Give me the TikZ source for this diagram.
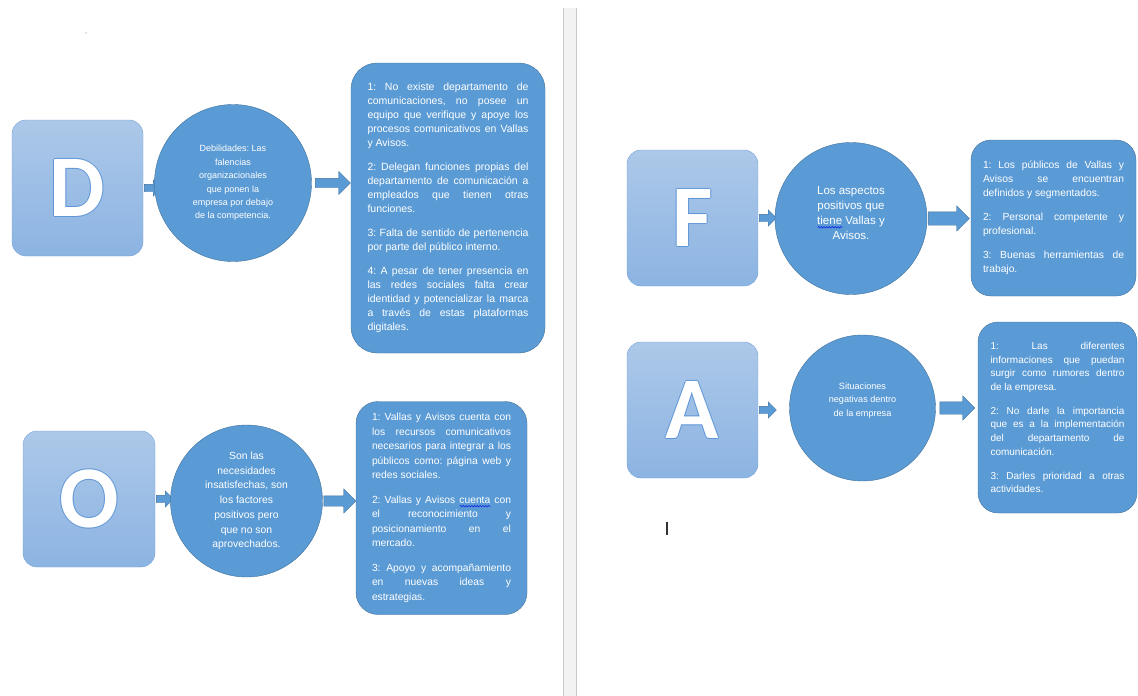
\documentclass[tikz,border=0pt]{standalone}
\usepackage{fontspec}
\setmainfont{Liberation Sans}
\newfontfamily\letterfont{Carlito}
\usepackage{tikz}
\usetikzlibrary{positioning,shapes.arrows,decorations.pathmorphing}
\definecolor{boxfill}{RGB}{91,155,213}
\definecolor{boxline}{RGB}{65,113,156}
\definecolor{sqtop}{RGB}{172,200,233}
\definecolor{sqbottom}{RGB}{140,180,226}
\definecolor{sqline}{RGB}{118,163,216}
\definecolor{letteredge}{RGB}{96,150,214}
\definecolor{spellblue}{RGB}{20,40,230}
\definecolor{pagegap}{RGB}{242,242,242}
\definecolor{pageedge}{RGB}{200,200,200}
\newlength\wavelen
\newcommand\spellwave[1]{\settowidth\wavelen{#1}\rlap{\tikz[baseline=0pt,x=1pt,y=1pt]
  \draw[spellblue,fill=none,sharp corners,line width=0.6pt,decorate,
    decoration={snake,segment length=2.8pt,amplitude=0.8pt}] (0,-2.8) -- (\wavelen,-2.8);}#1}
\newcommand\edgeletter[1]{\rlap{\textcolor{letteredge}{\kern0.9pt#1}}%
  \rlap{\textcolor{letteredge}{\kern-0.9pt#1}}%
  \rlap{\textcolor{letteredge}{\raisebox{0.9pt}{#1}}}%
  \rlap{\textcolor{letteredge}{\raisebox{-0.9pt}{#1}}}#1}
\newcommand\nextpoint{\par\vspace{10pt}}
\newcommand\br{\linebreak}
\frenchspacing
\tolerance=10000
\hyphenpenalty=10000
\exhyphenpenalty=10000
\tikzset{
  lettersq/.style={draw=sqline,top color=sqtop,bottom color=sqbottom,rounded corners=14pt,
    minimum width=131pt,minimum height=136pt,text=white,
    font=\letterfont\bfseries\fontsize{88}{88}\selectfont},
  bubble/.style={circle,draw=boxline,fill=boxfill,text=white,inner sep=0pt,align=center},
  listbox/.style={draw=boxline,fill=boxfill,text=white,rounded corners=22pt,align=justify},
  smallarrow/.style={single arrow,draw=boxline,fill=boxfill,inner sep=3.5pt,
    single arrow head extend=4.5pt,minimum height=17pt},
  bigarrow/.style={single arrow,draw=boxline,fill=boxfill,inner sep=5pt,
    single arrow head extend=7pt,minimum height=36pt}
}
\begin{document}
\begin{tikzpicture}[x=1pt,y=-1pt]
  \useasboundingbox (0,0) rectangle (1138,696);
  % gap between the two pages
  \fill[pagegap] (563,8) rectangle (576,696);
  \draw[pageedge] (563,8) -- (563,696) (576,8) -- (576,696);
  \fill[black!45] (86,33) circle (0.7pt);
  \draw[black!80,line width=1.2pt] (667,522) -- (667,535);

  % D
  \node[lettersq] (sqD) at (77.5,188) {\edgeletter{D}};
  \node[smallarrow,right=1pt of sqD] (aD1) {};
  \node[bubble,minimum size=157pt,font=\fontsize{9}{13.4}\selectfont] (cD) at (233,183)
    {Debilidades: Las\\falencias\\organizacionales\\que ponen la\\empresa por debajo\\de la competencia.};
  \node[bigarrow,right=3.5pt of cD,minimum height=35pt,inner sep=4.5pt] (aD2) {};
  \node[listbox,minimum width=194pt,minimum height=290pt,text width=161pt,rounded corners=26pt,
    font=\fontsize{10.5}{14}\selectfont] (tD) at (448,208)
    {1: No existe departamento de\br comunicaciones, no posee un\br equipo que verifique y apoye los\br procesos comunicativos en Vallas\br y Avisos.\nextpoint
     2: Delegan funciones propias del\br departamento de comunicación a\br empleados que tienen otras\br funciones.\nextpoint
     3: Falta de sentido de pertenencia\br por parte del público interno.\nextpoint
     4: A pesar de tener presencia en\br las redes sociales falta crear\br identidad y potencializar la marca\br a través de estas plataformas\br digitales.};

  % O
  \node[lettersq,minimum width=132pt] (sqO) at (89,499) {\edgeletter{O}};
  \node[smallarrow,right=1pt of sqO] (aO1) {};
  \node[bubble,minimum size=152pt,font=\fontsize{10.4}{14.7}\selectfont] (cO) at (246.5,501)
    {Son las\\necesidades\\insatisfechas, son\\los factores\\positivos pero\\que no son\\aprovechados.};
  \node[bigarrow,right=1pt of cO,minimum height=32pt] (aO2) {};
  \node[listbox,minimum width=171pt,minimum height=213pt,text width=139pt,
    font=\fontsize{10.3}{14.5}\selectfont] (tO) at (441.5,508)
    {1: Vallas y Avisos cuenta con\br los recursos comunicativos\br necesarios para integrar a los\br públicos como: página web y\br redes sociales.\nextpoint
     2: Vallas y Avisos \spellwave{cuenta} con\br el reconocimiento y\br posicionamiento en el\br mercado.\nextpoint
     3: Apoyo y acompañamiento\br en nuevas ideas y\br estrategias.};

  % F
  \node[lettersq] (sqF) at (692.5,218) {\edgeletter{F}};
  \node[smallarrow,right=1pt of sqF] (aF1) {};
  \node[bubble,minimum size=152pt,font=\fontsize{11.5}{15}\selectfont] (cF) at (851,218.5)
    {Los aspectos\\positivos que\\\spellwave{tiene} Vallas y\\Avisos.\\[-4pt]\mbox{}};
  \node[bigarrow,right=1pt of cF,minimum height=41pt,inner sep=6.5pt,single arrow head extend=6pt] (aF2) {};
  \node[listbox,minimum width=165pt,minimum height=156pt,text width=141pt,rounded corners=20pt,
    font=\fontsize{10.3}{14}\selectfont] (tF) at (1053.5,218)
    {1: Los públicos de Vallas y\br Avisos se encuentran\br definidos y segmentados.\nextpoint
     2: Personal competente y\br profesional.\nextpoint
     3: Buenas herramientas de\br trabajo.};

  % A
  \node[lettersq] (sqA) at (692.5,410) {\edgeletter{A}};
  \node[smallarrow,right=1pt of sqA] (aA1) {};
  \node[bubble,minimum size=146pt,font=\fontsize{9.1}{13.5}\selectfont] (cA) at (862.5,408)
    {Situaciones\\negativas dentro\\de la empresa\\[4pt]\mbox{}};
  \node[bigarrow,right=4pt of cA,minimum height=35pt,inner sep=6pt,single arrow head extend=6pt] (aA2) {};
  \node[listbox,minimum width=159pt,minimum height=191pt,text width=134pt,rounded corners=20pt,
    font=\fontsize{10}{13.7}\selectfont] (tA) at (1057.5,417.5)
    {1: Las diferentes\br informaciones que puedan\br surgir como rumores dentro\br de la empresa.\nextpoint
     2: No darle la importancia\br que es a la implementación\br del departamento de\br comunicación.\nextpoint
     3: Darles prioridad a otras\br actividades.};
\end{tikzpicture}
\end{document}
